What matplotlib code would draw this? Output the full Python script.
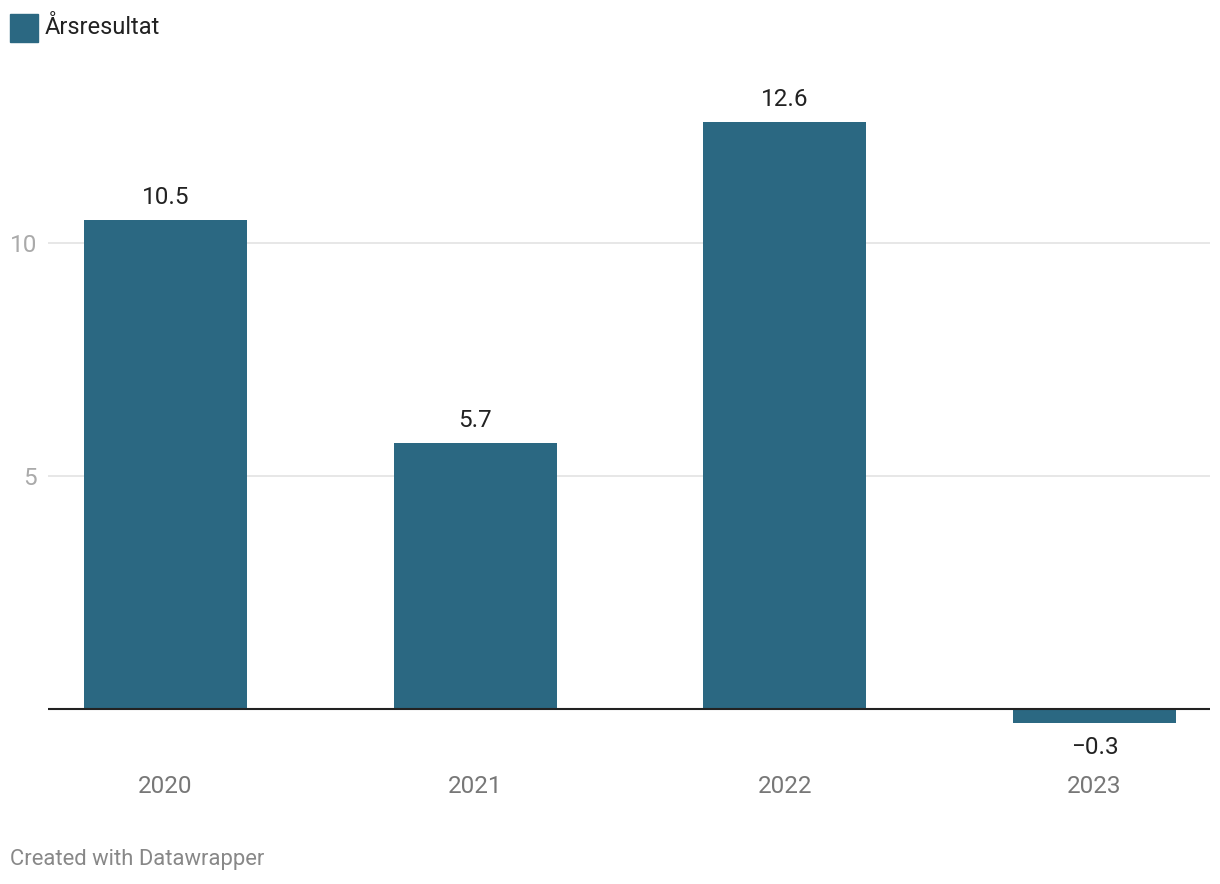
import matplotlib.pyplot as plt
from matplotlib.patches import Rectangle

plt.rcParams['font.family'] = ['Roboto', 'DejaVu Sans']

years = ['2020', '2021', '2022', '2023']
values = [10.5, 5.7, 12.6, -0.3]
value_labels = ['10.5', '5.7', '12.6', '\u22120.3']
yticks = [5, 10]
bar_color = '#2b6882'

W, H = 1220, 884
fig = plt.figure(figsize=(W / 100, H / 100), dpi=100)
ax = fig.add_axes([48 / W, (H - 760) / H, (1210 - 48) / W, 700 / H])

x = range(len(years))
ax.bar(x, values, width=0.526, color=bar_color, zorder=2)

for xi, v, lab in zip(x, values, value_labels):
    if v >= 0:
        ax.annotate(lab, (xi, v), xytext=(0, 8), textcoords='offset points',
                    ha='center', va='bottom', fontsize=17.5, color='#222222')
    else:
        ax.annotate(lab, (xi, v), xytext=(0, -9), textcoords='offset points',
                    ha='center', va='top', fontsize=17.5, color='#222222')

ax.set_xlim(-0.379, 3.373)
ax.set_ylim(-1.094, 13.93)
ax.set_yticks(yticks)
ax.set_yticklabels([str(t) for t in yticks])
ax.set_xticks(list(x))
ax.set_xticklabels(years)
ax.tick_params(axis='y', length=0, pad=8, labelsize=17.5, labelcolor='#aaaaaa')
ax.tick_params(axis='x', length=0, pad=11, labelsize=17.5, labelcolor='#777777')
ax.grid(axis='y', color='#e3e3e3', linewidth=1.2, zorder=0)
for s in ax.spines.values():
    s.set_visible(False)
ax.axhline(0, color='#222222', linewidth=1.5, zorder=3)

# legend
fig.patches.append(Rectangle((10 / W, (H - 42) / H), 28 / W, 28 / H,
                             transform=fig.transFigure, color=bar_color))
fig.text(45 / W, (H - 27) / H, 'Årsresultat', fontsize=17, color='#222222',
         va='center', ha='left')

fig.text(10 / W, (H - 859) / H, 'Created with Datawrapper', fontsize=15.8,
         color='#888888', va='center', ha='left')

fig.savefig('out.png', dpi=100)
